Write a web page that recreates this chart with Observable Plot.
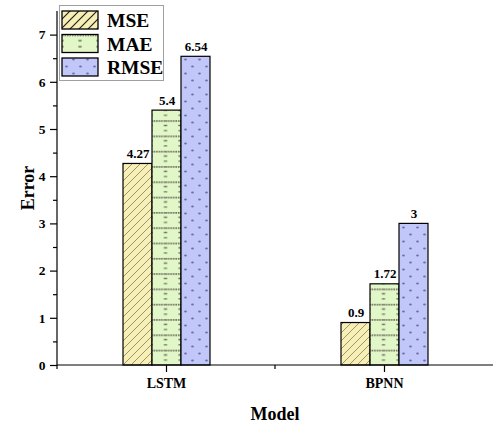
<!DOCTYPE html>
<html><head><meta charset="utf-8">
<script src="https://cdn.jsdelivr.net/npm/d3@7"></script>
<script src="https://cdn.jsdelivr.net/npm/@observablehq/plot@0.6"></script>
<style>body{margin:0;background:#fff} #chart svg{font-family:"Liberation Serif","Times New Roman",serif}</style>
</head><body><div id="chart"></div>
<script>
const models = ["LSTM", "BPNN"];
const series = ["MSE", "MAE", "RMSE"];
const MSE = [4.27, 0.9];
const MAE = [5.4, 1.72];
const RMSE = [6.54, 3];
const yTicks = [0, 1, 2, 3, 4, 5, 6, 7];
const yMinor = [0.5, 1.5, 2.5, 3.5, 4.5, 5.5, 6.5];
const fills = ["url(#pMSE)", "url(#pMAE)", "url(#pRMSE)"];
const legendFills = ["url(#pMSEL)", "url(#pMAEL)", "url(#pRMSE)"];
const values = {MSE, MAE, RMSE};
const data = models.flatMap((m, i) => series.map(s => ({model: m, series: s, value: values[s][i]})));

const W = 493, H = 424, mL = 57, mR = 0, mT = 11, mB = 59;
const facetW = (W - mL - mR) / models.length;
const barW = 29;
const pOuter = (facetW / barW - series.length) / 2;

const plot = Plot.plot({
  width: W, height: H,
  marginLeft: mL, marginRight: mR, marginTop: mT, marginBottom: mB,
  style: {fontFamily: "Liberation Serif, Times New Roman, serif", background: "white", overflow: "visible", color: "black"},
  fx: {domain: models, padding: 0, label: null},
  x: {domain: series, paddingInner: 0, paddingOuter: pOuter, axis: null},
  y: {domain: [0, 7.5], axis: null},
  color: {domain: series, range: fills},
  marks: [
    Plot.barY(data, {fx: "model", x: "series", y: "value", fill: "series", stroke: "black", strokeWidth: 1.2}),
    Plot.text(data, {fx: "model", x: "series", y: "value", text: d => String(d.value), lineAnchor: "bottom", dy: -6, fontWeight: "bold", fontSize: 13}),
    Plot.axisY({ticks: yTicks, tickSize: 7, tickPadding: 5, fontSize: 13.5, fontWeight: "bold", label: null, tickFormat: d => String(d), strokeWidth: 1.2}),
    Plot.axisY({ticks: yMinor, tickSize: 4, tickFormat: () => "", label: null, strokeWidth: 1.2}),
    Plot.axisFx({anchor: "bottom", tickSize: 7, tickPadding: 6, fontSize: 14, fontWeight: "bold", label: null, strokeWidth: 1.2})
  ]
});
document.getElementById("chart").appendChild(plot);

const svg = d3.select(plot);
const fx = plot.scale("fx"), xs = plot.scale("x"), ys = plot.scale("y");
const y0 = ys.apply(0), yTop = ys.apply(7.5);
const xLeft = mL, xRight = W - mR;
const maeLeft = fx.apply(models[0]) + xs.apply("MAE");

const defs = svg.insert("defs", ":first-child");
// MSE: diagonal hatch
function hatch(id, size, sw, col) {
  const p = defs.append("pattern").attr("id", id).attr("patternUnits", "userSpaceOnUse").attr("width", size).attr("height", size);
  p.append("rect").attr("width", size).attr("height", size).attr("fill", "#f7efb6");
  p.append("path").attr("d", `M0,${size} L${size},0 M-2,2 L2,-2 M${size - 2},${size + 2} L${size + 2},${size - 2}`)
    .attr("stroke", col).attr("stroke-width", sw);
}
hatch("pMSE", 8, 0.55, "#4a4a3a");
hatch("pMSEL", 9, 1.2, "#222");
// MAE: dotted grid
function grid(id, mw, mh, x, y) {
  const p2 = defs.append("pattern").attr("id", id).attr("patternUnits", "userSpaceOnUse")
    .attr("width", mw).attr("height", mh).attr("x", x).attr("y", y);
  p2.append("rect").attr("width", mw).attr("height", mh).attr("fill", "#e1f7c8");
  p2.append("path").attr("d", `M0,0.8 H${mw}`).attr("stroke", "#6a6a5a").attr("stroke-width", 1.6).attr("stroke-dasharray", "1.6,0.9");
  p2.append("path").attr("d", `M-1.6,${mh * 0.35} H1.6 M${mw - 1.6},${mh * 0.35} H${mw + 1.6} M-1.6,${mh * 0.68} H1.6 M${mw - 1.6},${mh * 0.68} H${mw + 1.6}`)
    .attr("stroke", "#6a6a5a").attr("stroke-width", 1.4);
}
grid("pMAE", barW / 2, 15.3, maeLeft, y0);
// RMSE: staggered dots
const p3 = defs.append("pattern").attr("id", "pRMSE").attr("patternUnits", "userSpaceOnUse").attr("width", 14).attr("height", 14);
p3.append("rect").attr("width", 14).attr("height", 14).attr("fill", "#c2c7fa");
p3.append("ellipse").attr("cx", 3.5).attr("cy", 3.5).attr("rx", 1.4).attr("ry", 0.9).attr("fill", "#6b70a6");
p3.append("ellipse").attr("cx", 10.5).attr("cy", 10.5).attr("rx", 1.4).attr("ry", 0.9).attr("fill", "#6b70a6");

// axis lines
const g = svg.append("g").attr("stroke", "black").attr("stroke-width", 1.2);
g.append("line").attr("x1", xLeft).attr("x2", xRight).attr("y1", y0).attr("y2", y0);
g.append("line").attr("x1", xLeft).attr("x2", xLeft).attr("y1", y0 + 0.6).attr("y2", yTop);
[xLeft, (xLeft + xRight) / 2].forEach(x => g.append("line").attr("x1", x).attr("x2", x).attr("y1", y0).attr("y2", y0 + 4));

// axis titles
svg.append("text").attr("x", (xLeft + xRight) / 2).attr("y", 420).attr("text-anchor", "middle")
  .attr("font-size", 18).attr("font-weight", "bold").text("Model");
svg.append("text").attr("transform", `translate(34,${(y0 + yTop) / 2}) rotate(-90)`).attr("text-anchor", "middle")
  .attr("font-size", 18).attr("font-weight", "bold").text("Error");

// legend
const lg = svg.append("g");
lg.append("rect").attr("x", 59.5).attr("y", 5.5).attr("width", 104).attr("height", 75).attr("fill", "white").attr("stroke", "#a0a0a0").attr("stroke-width", 1);
series.forEach((s, i) => {
  const yy = 11 + i * 23.5;
  if (i === 1) grid("pMAEL", 18, 18, 62, yy);
  lg.append("rect").attr("x", 62).attr("y", yy).attr("width", 36).attr("height", 18)
    .attr("fill", legendFills[i]).attr("stroke", "black").attr("stroke-width", 1.3);
  lg.append("text").attr("x", 107).attr("y", yy + 16).attr("text-anchor", "start")
    .attr("font-size", 19.5).attr("font-weight", "bold").text(s);
});
</script></body></html>
